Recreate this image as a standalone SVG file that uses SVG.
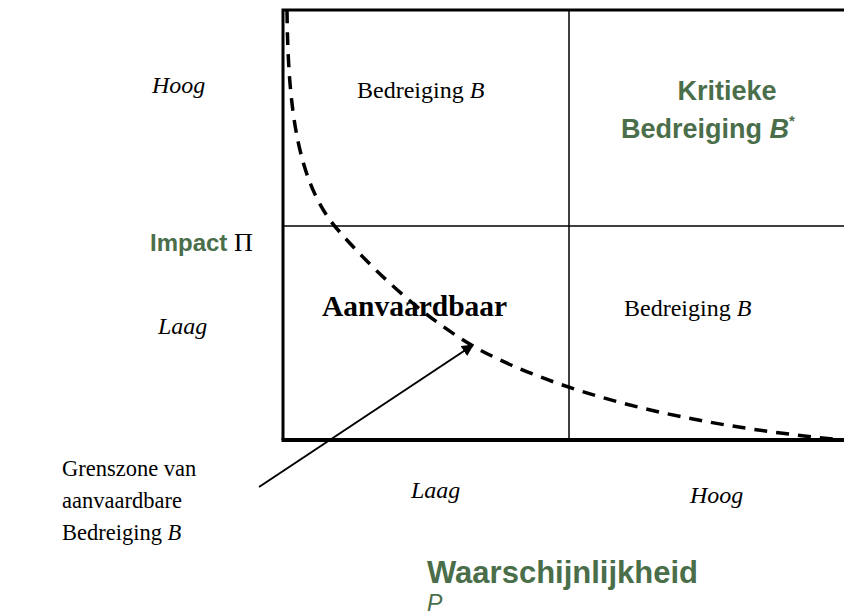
<svg xmlns="http://www.w3.org/2000/svg" width="844" height="616" viewBox="0 0 844 616">
<style>
.s{font-family:"Liberation Serif","Times New Roman",serif;font-size:24px;fill:#000}
.i{font-style:italic}
.g{font-family:"Liberation Sans",Arial,sans-serif;font-weight:bold;font-size:27px;fill:#4a6e4a}
</style>
<defs>
<marker id="ah" markerWidth="12" markerHeight="12" refX="11" refY="6" orient="auto" markerUnits="userSpaceOnUse" viewBox="0 0 12 12">
<path d="M0,0 L12,6 L0,12 z" fill="#000"/>
</marker>
</defs>
<rect width="844" height="616" fill="#fff"/>
<g id="grid" fill="none" stroke="#000">
<line x1="569" y1="10" x2="569" y2="440" stroke-width="1.5"/>
<line x1="283" y1="226" x2="844" y2="226" stroke-width="1.5"/>
<path d="M283,440 L283,10 L846,10" stroke-width="3"/>
<line x1="281.5" y1="440" x2="846" y2="440" stroke-width="4"/>
</g>
<g id="connectors" fill="none" stroke="#000">
<path id="grens" d="M287,10 C288,110 298,185 338,230 C380,278 430,322 480,350 C560,392 680,425 844,440" stroke-width="3.5" stroke-dasharray="13,9"/>
<line x1="259" y1="487" x2="473" y2="345" stroke-width="2" marker-end="url(#ah)"/>
</g>
<g id="labels-y">
<text class="s i" x="152" y="93">Hoog</text>
<text class="s i" x="158" y="334">Laag</text>
<text x="150" y="251"><tspan class="g" style="font-size:24px">Impact </tspan><tspan class="s" style="font-size:26px">Π</tspan></text>
</g>
<g id="q-tl"><text class="s" x="357" y="98">Bedreiging <tspan class="i">B</tspan></text></g>
<g id="q-tr">
<text class="g" x="727" y="100" text-anchor="middle">Kritieke</text>
<text class="g" x="621" y="138">Bedreiging <tspan style="font-style:italic">B</tspan><tspan style="font-size:15px" dy="-12">*</tspan></text>
</g>
<g id="q-bl"><text class="s" x="322" y="316" style="font-weight:bold;font-size:29.5px">Aanvaardbaar</text></g>
<g id="q-br"><text class="s" x="624" y="316">Bedreiging <tspan class="i">B</tspan></text></g>
<g id="labels-x">
<text class="s i" x="411" y="498">Laag</text>
<text class="s i" x="690" y="503">Hoog</text>
<text class="g" x="427" y="583" style="font-size:31px">Waarschijnlijkheid</text>
<text class="g" x="427" y="611" style="font-size:23px;font-weight:normal;font-style:italic">P</text>
</g>
<g id="note">
<text class="s" x="62" y="476" style="font-size:22.5px">Grenszone van</text>
<text class="s" x="62" y="508" style="font-size:22.5px">aanvaardbare</text>
<text class="s" x="62" y="540" style="font-size:22.5px">Bedreiging <tspan class="i">B</tspan></text>
</g>
</svg>
